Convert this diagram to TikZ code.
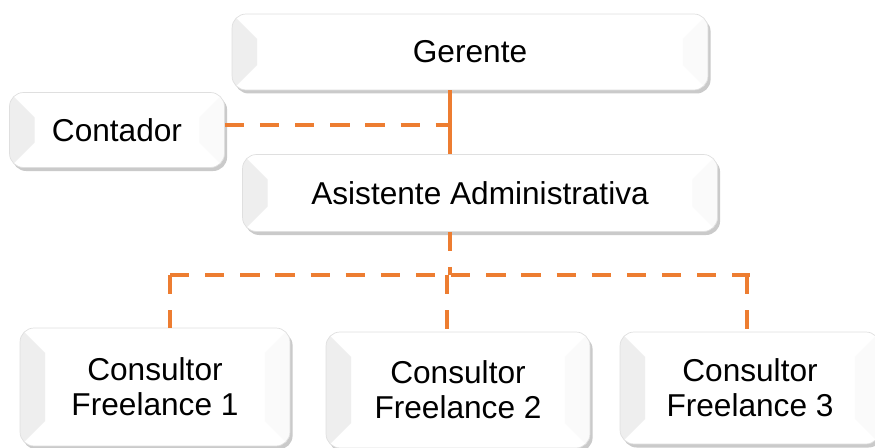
\documentclass[tikz,border=0pt]{standalone}
\usepackage{fontspec}
\setmainfont{Liberation Sans}
\usetikzlibrary{shadows}

\definecolor{linea}{HTML}{ED7D31}

\tikzset{
  caja/.style={rounded corners=8pt, draw=gray!25, fill=white, inner sep=0pt,
    align=center, font=\fontsize{18}{20}\selectfont,
    drop shadow={shadow xshift=1.5pt, shadow yshift=-2pt, fill=gray!70, opacity=.6},
    path picture={
      \fill[gray!13, sharp corners] (path picture bounding box.north west) -- ++(0.5cm,-0.5cm)
        -- ([shift={(0.5cm,0.5cm)}]path picture bounding box.south west)
        -- (path picture bounding box.south west) -- cycle;
      \fill[gray!4, sharp corners] (path picture bounding box.north east) -- ++(-0.5cm,-0.5cm)
        -- ([shift={(-0.5cm,0.5cm)}]path picture bounding box.south east)
        -- (path picture bounding box.south east) -- cycle;
    }},
  enlace/.style={draw=linea, line width=2.8pt},
  punteado/.style={enlace, dash pattern=on 11pt off 9pt}
}

\begin{document}
\begin{tikzpicture}[x=0.02cm, y=-0.02cm]

\useasboundingbox (0, 0) rectangle (875, 448);

\node [caja, minimum width=9.52cm, minimum height=1.52cm] (gerente) at (470, 52) {Gerente};
\node [caja, minimum width=4.3cm, minimum height=1.5cm] (contador) at (117, 130) {Contador};
\node [caja, minimum width=9.5cm, minimum height=1.54cm] (asistente) at (480, 193) {Asistente Administrativa};
\node [caja, minimum width=5.4cm, minimum height=2.36cm] (freel1) at (155, 387) {Consultor\\Freelance 1};
\node [caja, minimum width=5.28cm, minimum height=2.32cm] (freel2) at (458, 390) {Consultor\\Freelance 2};
\node [caja, minimum width=5.2cm, minimum height=2.24cm] (freel3) at (750, 388) {Consultor\\Freelance 3};

\coordinate (eje) at (450, 0);
\coordinate (bus) at (0, 275);

\draw [enlace] (gerente.south -| eje) -- (asistente.north -| eje);
\draw [punteado] (contador.east |- 0, 125) -- (448, 125);
\draw [punteado] (asistente.south -| eje) -- (bus -| eje);
\draw [punteado] (bus -| 170, 0) -- (bus -| 750, 0);
\draw [punteado] (bus -| 170, 0) -- (freel1.north -| 170, 0);
\draw [punteado] (bus -| 447, 0) -- (freel2.north -| 447, 0);
\draw [punteado] (bus -| 747, 0) -- (freel3.north -| 747, 0);

\end{tikzpicture}
\end{document}
